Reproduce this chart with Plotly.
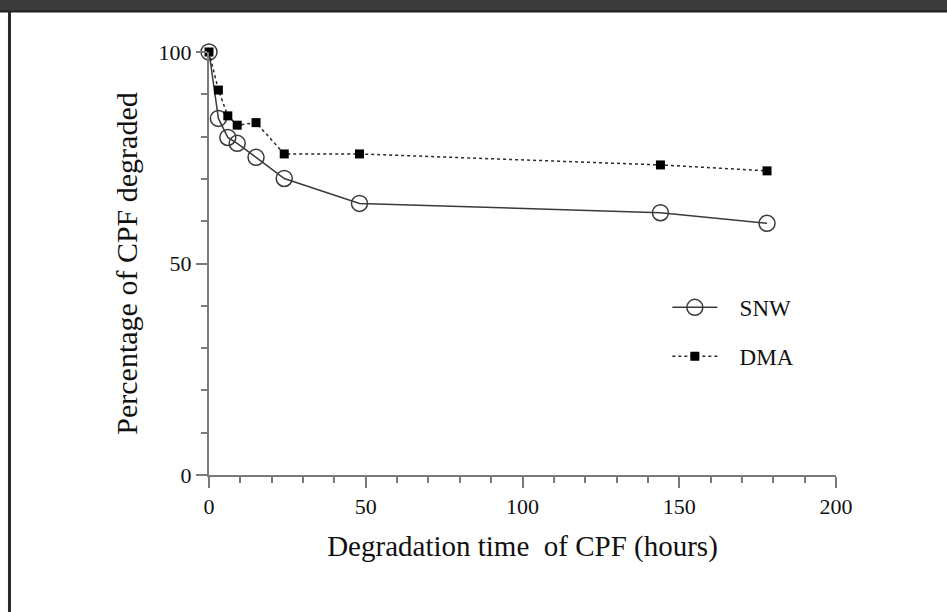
import plotly.graph_objects as go

hours = [0, 3, 6, 9, 15, 24, 48, 144, 178]
snw = [100, 84.3, 79.8, 78.4, 75.1, 70.1, 64.2, 62.0, 59.5]
dma = [100, 91.0, 84.9, 82.7, 83.3, 75.9, 75.9, 73.3, 71.9]

x_ticks = [0, 50, 100, 150, 200]
y_ticks = [0, 50, 100]

FONT = "Liberation Serif, Times New Roman, serif"
AX = "#7a7a7a"
PAD = "\u00a0\u00a0\u00a0"

fig = go.Figure()
fig.add_trace(go.Scatter(
    x=hours, y=snw, name=PAD + "SNW", mode="lines+markers", legendgroup="a",
    line=dict(color="#3a3a3a", width=1.5),
    marker=dict(symbol="circle-open", size=16, color="#3a3a3a", line=dict(width=1.5)),
    cliponaxis=False,
))
fig.add_trace(go.Scatter(
    x=hours, y=dma, name=PAD + "DMA", mode="lines+markers", legendgroup="b",
    line=dict(color="#2a2a2a", width=1.5, dash="dot"),
    marker=dict(symbol="square", size=9, color="#000000"),
    cliponaxis=False,
))

axis_common = dict(
    showline=True, linecolor=AX, linewidth=2,
    ticks="outside", ticklen=11, tickwidth=2, tickcolor=AX,
    showgrid=False, zeroline=False,
    tickfont=dict(family=FONT, size=22, color="#111"),
)

fig.update_layout(
    width=947, height=612,
    margin=dict(l=209, r=111, t=52, b=137),
    paper_bgcolor="white", plot_bgcolor="white",
    showlegend=True,
    legend=dict(x=0.731, y=0.447, xanchor="left", yanchor="top",
                font=dict(family=FONT, size=23, color="#111"),
                tracegroupgap=16, traceorder="grouped", itemwidth=45,
                bgcolor="rgba(0,0,0,0)"),
    xaxis=dict(range=[0, 200], tickvals=x_ticks,
               minor=dict(dtick=10, ticks="outside", ticklen=6, tickwidth=2, tickcolor=AX),
               title=dict(text="Degradation time \u00a0of CPF (hours)", standoff=17,
                          font=dict(family=FONT, size=29, color="#111")),
               **axis_common),
    yaxis=dict(range=[0, 100], tickvals=y_ticks,
               minor=dict(dtick=10, ticks="outside", ticklen=6, tickwidth=2, tickcolor=AX),
               title=dict(text="Percentage of CPF degraded", standoff=12,
                          font=dict(family=FONT, size=30, color="#111")),
               **axis_common),
    shapes=[
        dict(type="rect", xref="paper", yref="paper", x0=-0.34, x1=1.18,
             y0=1.0945, y1=1.13, fillcolor="#3b3b3b", line=dict(width=0), layer="above"),
        dict(type="line", xref="paper", yref="paper", x0=-0.34, x1=1.18,
             y0=1.0955, y1=1.0955, line=dict(color="#1e1e1e", width=2)),
        dict(type="rect", xref="paper", yref="paper", x0=-0.3206, x1=-0.3158,
             y0=-0.33, y1=1.0955, fillcolor="#2a2a2a", line=dict(width=0)),
    ],
)

fig.write_html("out.html", config={"displayModeBar": False},
               post_script="document.body.style.margin='0px';")
